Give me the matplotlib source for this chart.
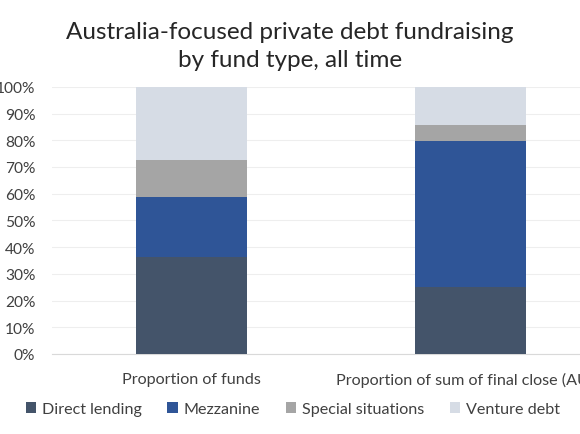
import numpy as np
import matplotlib
matplotlib.use('Agg')
import matplotlib.pyplot as plt
from matplotlib.ticker import PercentFormatter

plt.rcParams['font.family'] = ['Lato', 'DejaVu Sans']

categories = ['Proportion of funds', 'Proportion of sum of final close (AUD)']
series_names = ['Direct lending', 'Mezzanine', 'Special situations', 'Venture debt']
direct_lending = [36.2, 25.0]
mezzanine = [22.7, 54.9]
special_situations = [13.8, 6.0]
venture_debt = [27.3, 14.1]
colours = ['#44546A', '#2F5597', '#A5A5A5', '#D6DCE5']

text_col = '#404040'

fig = plt.figure(figsize=(5.8, 4.35), dpi=100)
# the plot area runs past the right edge, as in the reference crop
ax = fig.add_axes([0.0897, 0.184, 0.962, 0.614])

x = np.arange(len(categories))
bottom = np.zeros(len(categories))
for name, vals, col in zip(series_names,
                           [direct_lending, mezzanine, special_situations, venture_debt],
                           colours):
    ax.bar(x, vals, width=0.4, bottom=bottom, color=col, label=name, zorder=3)
    bottom += np.array(vals)

ax.set_xlim(-0.5, 1.5)
ax.set_ylim(0, 100)
ax.set_yticks(np.arange(0, 101, 10))
ax.yaxis.set_major_formatter(PercentFormatter(decimals=0))
ax.set_xticks(x)
ax.set_xticklabels(categories)
ax.tick_params(axis='both', length=0, colors=text_col)
ax.tick_params(axis='x', labelsize=11.6, pad=13)
ax.tick_params(axis='y', labelsize=11.2, pad=12)
ax.grid(axis='y', color='#EEEEEE', linewidth=0.8, zorder=0)
for s in ['top', 'right', 'left']:
    ax.spines[s].set_visible(False)
ax.spines['bottom'].set_color('#D9D9D9')

fig.text(0.5, 0.894, 'Australia-focused private debt fundraising\nby fund type, all time',
         ha='center', va='center', fontsize=17.5, color='#262626', linespacing=1.4)

leg = fig.legend(loc='center', bbox_to_anchor=(0.505, 0.058), ncol=4, frameon=False,
                 fontsize=11.6, handlelength=0.65, handleheight=0.65, handletextpad=0.35,
                 columnspacing=1.6)
for t in leg.get_texts():
    t.set_color(text_col)

fig.savefig('out.png', dpi=100)
